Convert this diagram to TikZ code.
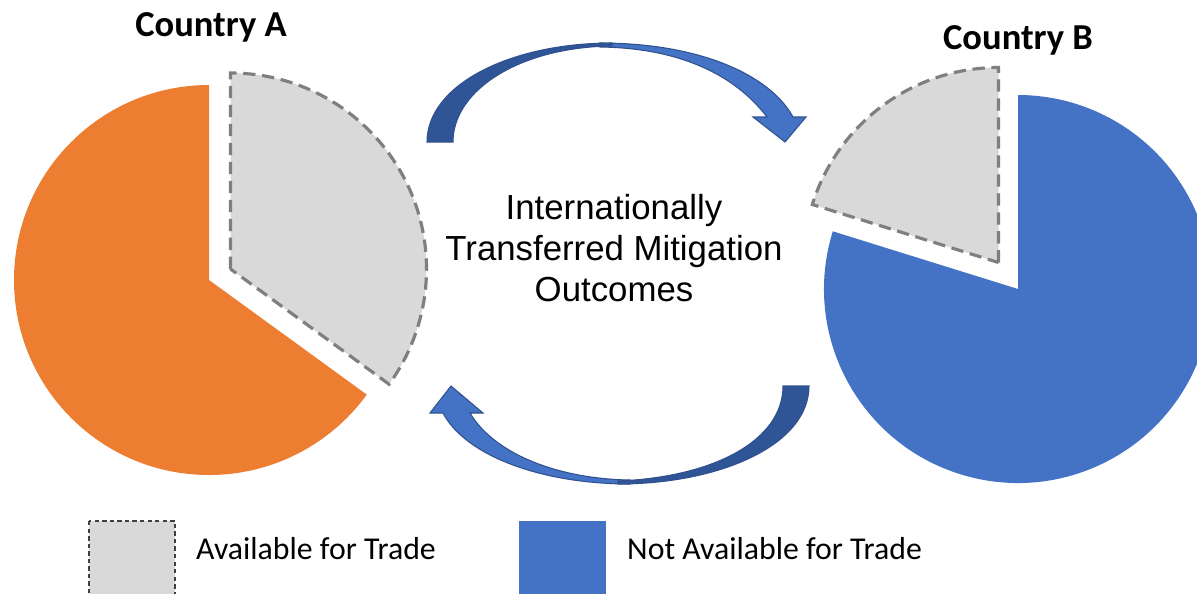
\documentclass[tikz,border=0pt]{standalone}
\usepackage{fontspec}
\setmainfont{Carlito}
\newfontfamily\arialf{Liberation Sans}
\definecolor{orangeA}{HTML}{ED7D31}
\definecolor{blueB}{HTML}{4472C4}
\definecolor{darkblue}{HTML}{2F5597}
\definecolor{edgeblue}{HTML}{2F528F}
\definecolor{grayfill}{HTML}{D9D9D9}
\definecolor{grayline}{HTML}{7F7F7F}
\tikzset{
  tradeslice/.style={fill=grayfill, draw=grayline, line width=1.8pt, dash pattern=on 7pt off 3.8pt},
  arrowlight/.style={fill=blueB, draw=edgeblue, line width=0.6pt, line join=miter},
  arrowdark/.style={fill=darkblue, draw=edgeblue, line width=0.6pt},
  titletext/.style={font=\fontsize{20.8}{25}\selectfont\bfseries},
  legendtext/.style={font=\fontsize{18.1}{21}\selectfont, anchor=west},
  centertext/.style={font=\arialf\fontsize{19.8}{23.3}\selectfont, align=center}
}
\begin{document}
\begin{tikzpicture}[x=0.02cm,y=-0.02cm]
\useasboundingbox (0,0) rectangle (1197,593);
\clip (0,0) rectangle (1197,593);
\fill[white] (0,0) rectangle (1197,593);
% Country A
\coordinate (cA) at (209,280);
\coordinate (gA) at (230.5,269);
\fill[orangeA] (cA) -- ++(-90:195) arc[start angle=-90,end angle=-324,radius=195] -- cycle;
\path[tradeslice] (gA) -- ++(-90:196) arc[start angle=-90,end angle=36,radius=196] -- cycle;
\node[titletext] (tA) at (211,27) {Country A};
% Country B
\coordinate (cB) at (1018,289);
\coordinate (gB) at (998.5,262.5);
\fill[blueB] (cB) -- ++(-162.7:194) arc[start angle=-162.7,end angle=-450,radius=194] -- cycle;
\path[tradeslice] (gB) -- ++(-90:195) arc[start angle=-90,end angle=-162.7,radius=195] -- cycle;
\node[titletext] (tB) at (1018,40) {Country B};
% centre text
\node[centertext] (mid) at (614,248) {Internationally\\Transferred Mitigation\\Outcomes};
% top arrow
\path[arrowlight] (600,43) .. controls (700,43) and (770,75) .. (793,117) -- (806,117) -- (785,142) -- (753,117) -- (767,117) .. controls (735,75) and (680,48) .. (600,47) -- cycle;
\path[arrowdark] (427,142) .. controls (427,85) and (510,43) .. (612,43) -- (612,46) .. controls (520,47) and (453,90) .. (453,142) -- cycle;
% bottom arrow
\path[arrowlight] (630,484) .. controls (540,484) and (465,455) .. (443,413) -- (430,413) -- (451,386) -- (483,413) -- (470,413) .. controls (495,455) and (560,479) .. (630,480) -- cycle;
\path[arrowdark] (809,386) .. controls (809,445) and (720,484) .. (618,484) -- (618,481) .. controls (715,477) and (783,440) .. (783,386) -- cycle;
% legend
\path[fill=grayfill, draw=black!75, line width=0.8pt, dash pattern=on 2.5pt off 1.8pt] (89,521) rectangle (175,610);
\node[legendtext] (lg1) at (190,549) {Available for Trade};
\fill[blueB] (519,521) rectangle (606,610);
\node[legendtext] (lg2) at (621,549) {Not Available for Trade};
\end{tikzpicture}
\end{document}
